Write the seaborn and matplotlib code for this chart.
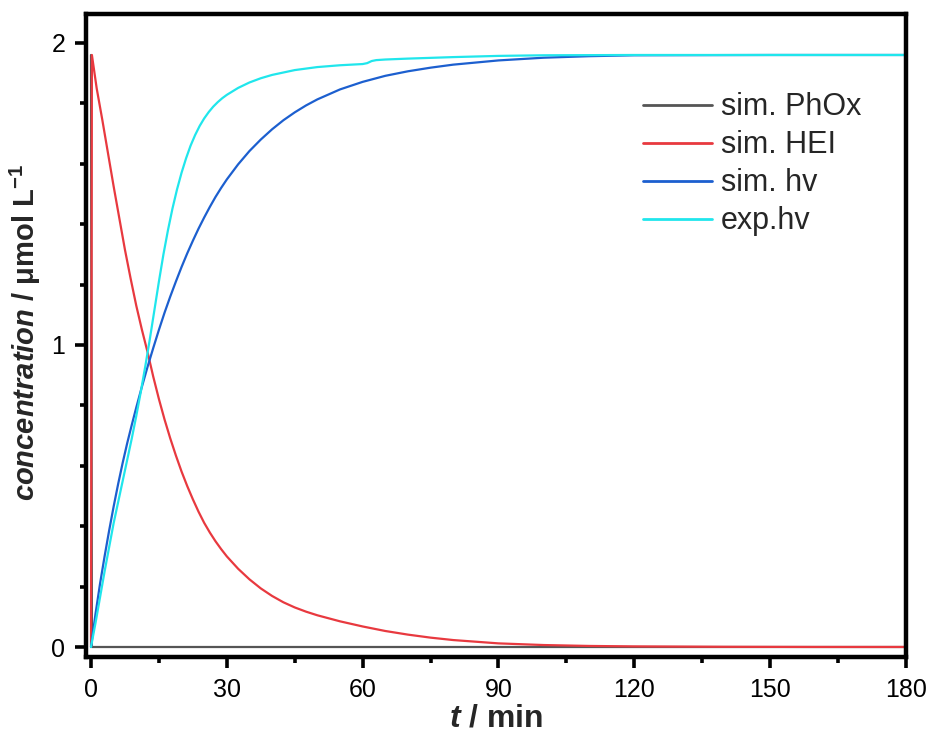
import numpy as np
import pandas as pd
import matplotlib
matplotlib.use("Agg")
import matplotlib.pyplot as plt
import seaborn as sns

# ---- data ----
t_phox = [0, 0.2, 180]
phox = [1.96, 0.0, 0.0]

t_hei = [0, 0.2, 1.25, 2.5, 3.75, 5, 6.25, 7.5, 8.75, 10, 11.25, 12.5, 13.75, 15, 16.25,
         17.5, 18.75, 20, 21.25, 22.5, 23.75, 25, 26.25, 27.5, 28.75, 30, 32.5, 35, 37.5,
         40, 42.5, 45, 47.5, 50, 55, 60, 65, 70, 75, 80, 90, 100, 110, 120, 140, 160, 180]
hei = [0.0, 1.96, 1.85, 1.745, 1.635, 1.525, 1.42, 1.315, 1.22, 1.13, 1.05, 0.976, 0.895,
       0.821, 0.753, 0.691, 0.634, 0.581, 0.533, 0.489, 0.448, 0.411, 0.379, 0.35, 0.324,
       0.30, 0.259, 0.224, 0.194, 0.169, 0.148, 0.131, 0.117, 0.105, 0.085, 0.068, 0.053,
       0.041, 0.031, 0.023, 0.012, 0.0065, 0.0035, 0.002, 0.0007, 0.0002, 0.0001]

t_simhv = [0, 1, 2, 3, 4, 5, 6, 7, 8, 9, 10, 11.25, 12.5, 13.75, 15, 16.25, 17.5, 18.75, 20,
           21.25, 22.5, 23.75, 25, 26.25, 27.5, 28.75, 30, 32.5, 35, 37.5, 40, 42.5, 45, 47.5,
           50, 55, 60, 65, 70, 75, 80, 90, 100, 110, 120, 150, 180]
simhv = [0.0, 0.11, 0.21, 0.30, 0.385, 0.465, 0.54, 0.61, 0.675, 0.735, 0.793, 0.862, 0.928,
         0.99, 1.05, 1.107, 1.16, 1.21, 1.258, 1.303, 1.345, 1.385, 1.422, 1.457, 1.49, 1.52,
         1.548, 1.598, 1.642, 1.68, 1.714, 1.744, 1.77, 1.793, 1.813, 1.846, 1.871, 1.891,
         1.906, 1.918, 1.928, 1.942, 1.951, 1.956, 1.959, 1.96, 1.96]

t_exphv = [0, 1, 2, 3, 4, 5, 6, 7, 8, 9, 10, 11, 12, 13, 14, 15, 16, 17, 18, 19, 20, 21,
           22, 23, 24, 25, 26, 27, 28, 29, 30, 32.5, 35, 37.5, 40, 45, 50, 55, 60, 61, 62,
           63, 65, 70, 80, 90, 100, 120, 150, 180]
exphv = [0.0, 0.08, 0.165, 0.25, 0.33, 0.41, 0.48, 0.55, 0.62, 0.69, 0.765, 0.845, 0.93,
         1.02, 1.115, 1.21, 1.30, 1.38, 1.452, 1.515, 1.57, 1.618, 1.66, 1.695, 1.725, 1.75,
         1.771, 1.789, 1.804, 1.817, 1.828, 1.851, 1.869, 1.883, 1.894, 1.91, 1.92, 1.926,
         1.93, 1.933, 1.94, 1.943, 1.945, 1.948, 1.953, 1.957, 1.959, 1.96, 1.96, 1.96]

labels = ["sim. PhOx", "sim. HEI", "sim. hv", "exp.hv"]
colors = ["#555555", "#e8393f", "#1c5fcf", "#20e6ec"]
x_ticks = [0, 30, 60, 90, 120, 150, 180]
y_ticks = [0, 1, 2]

# ---- style ----
sns.set_theme(style="ticks")
plt.rcParams["font.family"] = ["Liberation Sans", "DejaVu Sans"]
plt.rcParams["mathtext.fontset"] = "custom"
plt.rcParams["mathtext.rm"] = "Liberation Sans:bold"
plt.rcParams["mathtext.it"] = "Liberation Sans:bold:italic"
plt.rcParams["mathtext.bf"] = "Liberation Sans:bold"

fig = plt.figure(figsize=(9.32, 7.32), dpi=100)
ax = fig.add_axes([0.0923, 0.1025, 0.8797, 0.8785])

series = [(t_phox, phox), (t_hei, hei), (t_simhv, simhv), (t_exphv, exphv)]
for (tx, vy), lab, col in zip(series, labels, colors):
    df = pd.DataFrame({"t": tx, "c": vy})
    sns.lineplot(data=df, x="t", y="c", ax=ax, color=col, lw=1.6, label=lab,
                 estimator=None, sort=False)

ax.set_xlim(-1.1, 180)
ax.set_ylim(-0.033, 2.096)
ax.set_xticks(x_ticks)
ax.set_yticks(y_ticks)
ax.set_xticks(np.arange(15, 180, 30), minor=True)
ax.set_yticks([0.2, 0.4, 0.6, 0.8, 1.2, 1.4, 1.6, 1.8], minor=True)
ax.tick_params(which="major", direction="out", length=8, width=2.6, labelsize=18,
               pad=7, color="black", labelcolor="black")
ax.tick_params(which="minor", direction="out", length=4.5, width=2.6, color="black")
for sp in ax.spines.values():
    sp.set_linewidth(3.2)
    sp.set_color("black")
    sp.set_visible(True)

ax.set_xlabel(r"$\mathit{t}$ / min", fontsize=23, fontweight="bold", labelpad=1)
ax.set_ylabel(r"$\mathit{concentration}$ / μmol L$^{\mathbf{-1}}$", fontsize=21,
              fontweight="bold")
ax.yaxis.set_label_coords(-0.052, 0.505)

leg = ax.legend(loc="upper left", bbox_to_anchor=(0.664, 0.897), frameon=False,
                fontsize=22, handlelength=2.27, handletextpad=0.3, labelspacing=0.26,
                borderaxespad=0)
for line in leg.get_lines():
    line.set_linewidth(2.0)

fig.savefig("out.png", dpi=100)
